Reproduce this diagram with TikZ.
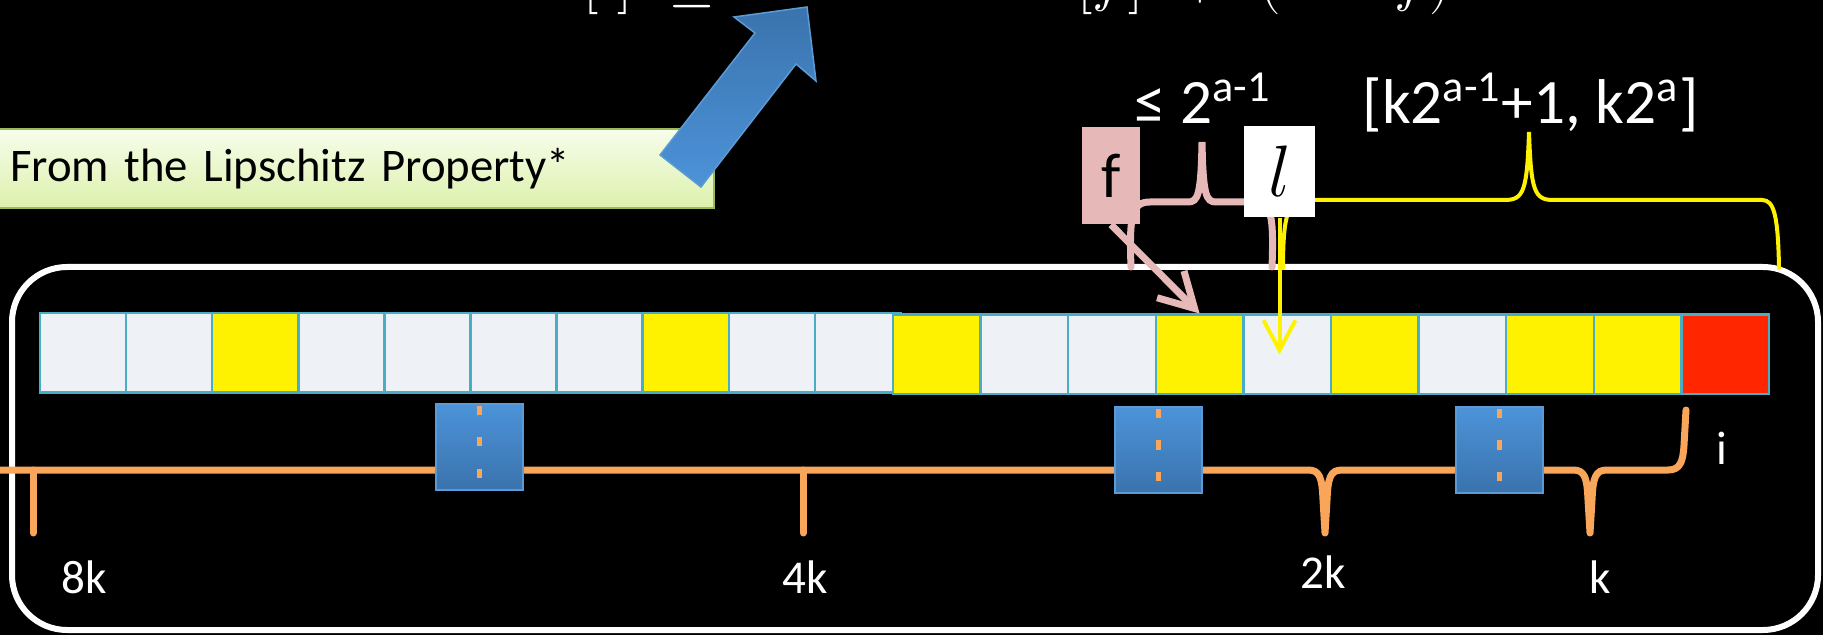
\documentclass[tikz,border=0pt]{standalone}
\usepackage{fontspec}
\setmainfont{Carlito}
\usepackage{tikz}
\usetikzlibrary{arrows.meta,calc}

\definecolor{cellfill}{HTML}{EEF2F6}
\definecolor{cellline}{HTML}{4BACC6}
\definecolor{hotcell}{HTML}{FF2600}
\definecolor{rangeline}{HTML}{F9A65A}
\definecolor{gapblue}{HTML}{4C93D9}
\definecolor{gapbluedark}{HTML}{3A73AD}
\definecolor{gapedge}{HTML}{5B9BD5}
\definecolor{firstpink}{HTML}{E6B9B8}
\definecolor{notetop}{HTML}{F7FDEB}
\definecolor{notebottom}{HTML}{DCF1AC}
\definecolor{noteedge}{HTML}{9BBB59}

\tikzset{
  cellbox/.style={draw=cellline, line width=0.25mm, minimum height=7.95mm, inner sep=0},
  gapblock/.style={top color=gapblue, bottom color=gapbluedark, draw=gapedge, line width=0.2mm,
    minimum width=8.7mm, minimum height=8.5mm, inner sep=0},
  formula/.style={text=white, font=\fontsize{16.5}{20}\selectfont, inner sep=0},
  ticklabel/.style={text=white, font=\fontsize{13.4}{16}\selectfont, inner sep=0},
  bracelabel/.style={text=white, font=\fontsize{18}{22}\selectfont, inner sep=0}
}

\begin{document}
\begin{tikzpicture}[x=0.1mm, y=-0.1mm, >={Straight Barb[length=3mm, width=3.2mm]}]
  \fill[black] (0,0) rectangle (1823,635);
  \useasboundingbox (0,0) rectangle (1823,635);

  % recurrence line, cut by the top edge
  \node[formula, anchor=base west] (fl) at (583,0) {$[l]$};
  \node[formula, anchor=base west] (fle) at (668,0) {$\leq$};
  \node[formula, anchor=base west] (ff) at (1077,0) {$[f]$};
  \node[formula, anchor=base] (fplus) at (1200,0) {$+$};
  \node[formula, anchor=base west] (fdiff) at (1259,0) {$(l\,-$};
  \node[formula, anchor=base east] (fend) at (1452,0) {$f)$};

  % note and its arrow
  \node[top color=notetop, bottom color=notebottom, draw=noteedge, line width=0.2mm,
    anchor=north west, text width=69mm, align=left, inner xsep=1.4mm, minimum height=7.9mm,
    font={\fontsize{13.3}{16}\selectfont\spaceskip=0.17em\relax}] (note) at (-5,128)
    {From the Lipschitz Property*};
  \shade[top color=gapbluedark, bottom color=gapblue, draw=gapedge, line width=0.15mm]
    (660,155) -- (701,187) -- (796,64) -- (816,81) -- (807,7) -- (734,17) -- (755,33) -- cycle;

  \draw[white, line width=0.6mm, rounded corners=5.5mm] (12,267) rectangle (1818,630);

  % the two rows of cells
  \foreach \c [count=\n] in {cellfill,cellfill,yellow,cellfill,cellfill,cellfill,cellfill,yellow,cellfill,cellfill}
    \node[cellbox, fill=\c, minimum width=8.61mm] (left\n) at ({40+86.1*(\n-0.5)},353) {};
  \foreach \c [count=\n] in {yellow,cellfill,cellfill,yellow,cellfill,yellow,cellfill,yellow,yellow,hotcell}
    \node[cellbox, fill=\c, minimum width=8.76mm] (right\n) at ({893+87.6*(\n-0.5)},354.5) {};

  % index line with its marks
  \draw[rangeline, line width=0.7mm, line cap=round, line join=round]
    (-5,470) -- (1308,470) .. controls (1320,470) and (1322,478) .. (1323,500) -- (1325,533)
    -- (1327,500) .. controls (1328,478) and (1330,470) .. (1342,470)
    -- (1573,470) .. controls (1585,470) and (1587,478) .. (1588,500) -- (1590,533)
    -- (1592,500) .. controls (1593,478) and (1595,470) .. (1607,470)
    -- (1668,470) .. controls (1680,470) and (1683,462) .. (1684,445) -- (1686,410);
  \draw[rangeline, line width=0.7mm, line cap=round] (33,470) -- (33,533);
  \draw[rangeline, line width=0.7mm, line cap=round] (803,470) -- (803,533);

  \node[gapblock] (gapA) at (479,447) {};
  \node[gapblock] (gapB) at (1158,450) {};
  \node[gapblock] (gapC) at (1499,450) {};
  \foreach \g in {gapA,gapB,gapC}
    \foreach \dy in {-36,-5,26}
      \fill[rangeline] ($(\g.center)+(-2.5,\dy-4.5)$) rectangle ++(5,9);

  \node[ticklabel, anchor=base] (eightk) at (84,593) {8k};
  \node[ticklabel, anchor=base] (fourk) at (805,593) {4k};
  \node[ticklabel, anchor=base] (twok) at (1323,588) {2k};
  \node[ticklabel, anchor=base] (onek) at (1600,593) {k};
  \node[ticklabel, anchor=base] (idx) at (1722,465) {i};

  % braces above the cells
  \draw[yellow, line width=0.4mm, line cap=round]
    (1283,268) .. controls (1283,215) and (1288,200) .. (1305,200) -- (1505,200)
    .. controls (1524,200) and (1527,190) .. (1529,132)
    .. controls (1531,190) and (1534,200) .. (1553,200) -- (1762,200)
    .. controls (1774,200) and (1778,215) .. (1779,268);
  \draw[firstpink, line width=0.7mm, line cap=round]
    (1131,267) .. controls (1129,215) and (1132,202) .. (1150,202) -- (1188,202)
    .. controls (1198,202) and (1201,195) .. (1202,142)
    .. controls (1203,195) and (1206,202) .. (1216,202) -- (1255,202)
    .. controls (1271,202) and (1274,215) .. (1272,267);

  \node[fill=firstpink, minimum width=5.8mm, minimum height=9.7mm, inner sep=0,
    font=\fontsize{18}{22}\selectfont] (fbox) at (1111,175.5) {f};
  \node[fill=white, minimum width=7.1mm, minimum height=9.1mm, inner sep=0,
    font=\fontsize{22}{26}\selectfont] (lbox) at (1279.5,171.5) {$l$};

  \node[bracelabel, anchor=base west] (gap) at (1134,124) {≤ 2\textsuperscript{a-1}};
  \node[bracelabel, anchor=base west] (range) at (1362,124) {[k2\textsuperscript{a-1}+1, k2\textsuperscript{a}]};

  \draw[-{Straight Barb[length=3.4mm, width=3.8mm]}, firstpink, line width=0.7mm] (fbox.south) -- (right4.north);
  \draw[->, yellow, line width=0.4mm] (lbox.south) -- (lbox.south |- right5.center);
\end{tikzpicture}
\end{document}
